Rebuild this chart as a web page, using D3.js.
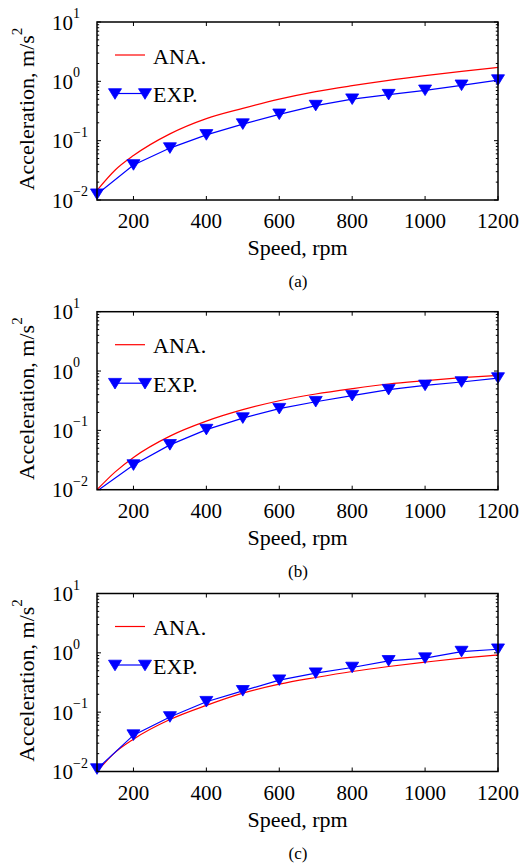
<!DOCTYPE html>
<html>
<head>
<meta charset="utf-8">
<script src="https://cdn.jsdelivr.net/npm/d3@7"></script>
<style>
  html, body { margin: 0; padding: 0; background: #fff; }
  svg { display: block; }
</style>
</head>
<body>
<svg id="chart" width="524" height="865"></svg>
<script>
// Measured speeds (rpm)
const expSpeeds = [100, 200, 300, 400, 500, 600, 700, 800, 900, 1000, 1100, 1200];
// Analytical curve sample speeds (rpm)
const anaSpeeds = [100, 150, 200, 300, 400, 500, 600, 700, 800, 900, 1000, 1100, 1200];

// Panel (a)
const anaA = [0.0145, 0.032, 0.056, 0.13, 0.235, 0.35, 0.5, 0.67, 0.845, 1.04, 1.245, 1.47, 1.72];
const expA = [0.0125, 0.039, 0.075, 0.125, 0.19, 0.278, 0.39, 0.5, 0.596, 0.706, 0.857, 1.05];
// Panel (b)
const anaB = [0.01, 0.02, 0.035, 0.08, 0.143, 0.223, 0.316, 0.41, 0.504, 0.604, 0.687, 0.772, 0.845];
const expB = [0.0095, 0.026, 0.057, 0.103, 0.161, 0.232, 0.304, 0.384, 0.485, 0.573, 0.653, 0.762];
// Panel (c)
const anaC = [0.01, 0.021, 0.035, 0.075, 0.13, 0.209, 0.296, 0.384, 0.485, 0.588, 0.696, 0.813, 0.925];
const expC = [0.011, 0.041, 0.083, 0.15, 0.229, 0.346, 0.454, 0.566, 0.733, 0.813, 1.05, 1.15];

const anaSeries = [anaA, anaB, anaC];
const expSeries = [expA, expB, expC];
const captions = ["(a)", "(b)", "(c)"];

// Axis ticks
const xTicks = [200, 400, 600, 800, 1000, 1200];
const yTicks = [0.01, 0.1, 1, 10];
const yTickExps = ["\u22122", "\u22121", "0", "1"];
const xLabel = "Speed, rpm";
const yLabel = "Acceleration, m/s";
const yLabelExp = "2";
const legendNames = ["ANA.", "EXP."];

const RED = "#ff0000", BLUE = "#0000ff";
const left = 97, right = 498, plotH = 178;
const panelTops = [22, 311.7, 593.5];

const svg = d3.select("#chart");

// pick the first installed Times-like face
function pickFont(cands) {
  const probe = svg.append("text").attr("font-size", 40).text("Acceleration 1200 ANA.");
  probe.attr("font-family", "monospace");
  const base = probe.node().getComputedTextLength();
  let found = "serif";
  for (const c of cands) {
    probe.attr("font-family", `"${c}", monospace`);
    if (Math.abs(probe.node().getComputedTextLength() - base) > 0.5) { found = `"${c}"`; break; }
  }
  probe.remove();
  return found;
}
const FONT = pickFont(["Liberation Serif", "Times New Roman", "Tinos", "Nimbus Roman", "Nimbus Roman No9 L", "Times", "DejaVu Serif", "Noto Serif"]);
svg.attr("font-family", FONT);

const x = d3.scaleLinear().domain([100, 1200]).range([left, right]);

// minor tick positions for the log axis
const minorTicks = [];
[0.01, 0.1, 1].forEach(dec => { for (let k = 2; k <= 9; k++) minorTicks.push(dec * k); });

// downward triangle marker
const tri = "M-6.5,-5.3L6.5,-5.3L0,5.3Z";

panelTops.forEach((top, i) => {
  const bottom = top + plotH;
  const y = d3.scaleLog().domain([0.01, 10]).range([bottom, top]);
  const g = svg.append("g");

  const clipId = "clip" + i;
  g.append("clipPath").attr("id", clipId)
    .append("rect").attr("x", left).attr("y", top)
    .attr("width", right - left).attr("height", plotH);

  // ticks (inward) on all four sides
  const tickG = g.append("g").attr("stroke", "#000").attr("stroke-width", 1);
  xTicks.forEach(t => {
    tickG.append("line").attr("x1", x(t)).attr("x2", x(t)).attr("y1", bottom).attr("y2", bottom - 4);
    tickG.append("line").attr("x1", x(t)).attr("x2", x(t)).attr("y1", top).attr("y2", top + 4);
  });
  yTicks.forEach(t => {
    tickG.append("line").attr("x1", left).attr("x2", left + 4).attr("y1", y(t)).attr("y2", y(t));
    tickG.append("line").attr("x1", right).attr("x2", right - 4).attr("y1", y(t)).attr("y2", y(t));
  });
  minorTicks.forEach(t => {
    tickG.append("line").attr("x1", left).attr("x2", left + 2.2).attr("y1", y(t)).attr("y2", y(t));
    tickG.append("line").attr("x1", right).attr("x2", right - 2.2).attr("y1", y(t)).attr("y2", y(t));
  });

  // x tick labels
  g.append("g").selectAll("text").data(xTicks).join("text")
    .attr("x", d => x(d)).attr("y", bottom + 28)
    .attr("text-anchor", "middle").attr("font-size", 21)
    .text(d => d);

  // y tick labels: 10 with superscript exponent
  yTicks.forEach((t, j) => {
    const txt = g.append("text").attr("x", 52).attr("y", y(t) + 7.5).attr("font-size", 21);
    txt.append("tspan").text("10");
    txt.append("tspan").attr("font-size", 14).attr("dy", -11.5).text(yTickExps[j]);
  });

  // axis titles
  g.append("text").attr("x", (left + right) / 2).attr("y", bottom + 55)
    .attr("text-anchor", "middle").attr("font-size", 22).text(xLabel);
  const yt = g.append("text")
    .attr("transform", `translate(34,${(top + bottom) / 2 - 2}) rotate(-90)`)
    .attr("text-anchor", "middle").attr("font-size", 22);
  yt.append("tspan").text(yLabel);
  yt.append("tspan").attr("font-size", 15).attr("dy", -12).text(yLabelExp);

  // caption
  g.append("text").attr("x", 298).attr("y", top + 265)
    .attr("text-anchor", "middle").attr("font-size", 17).text(captions[i]);

  // series
  const data = g.append("g").attr("clip-path", `url(#${clipId})`);
  const anaLine = d3.line().x((d, k) => x(anaSpeeds[k])).y(d => y(d)).curve(d3.curveMonotoneX);
  data.append("path").datum(anaSeries[i]).attr("d", anaLine)
    .attr("fill", "none").attr("stroke", RED).attr("stroke-width", 1.2);

  const expLine = d3.line().x((d, k) => x(expSpeeds[k])).y(d => y(d));
  data.append("path").datum(expSeries[i]).attr("d", expLine)
    .attr("fill", "none").attr("stroke", BLUE).attr("stroke-width", 1.2);

  const pts = expSeries[i].map((v, k) => ({ s: expSpeeds[k], v }))
    .filter(d => d.v >= 0.01);
  g.append("g").selectAll("path").data(pts).join("path")
    .attr("d", tri).attr("fill", BLUE).attr("stroke", BLUE).attr("stroke-width", 0.8)
    .attr("transform", d => `translate(${x(d.s)},${y(d.v)})`);

  // legend
  const lg = g.append("g");
  lg.append("line").attr("x1", 115).attr("x2", 145).attr("y1", top + 33).attr("y2", top + 33)
    .attr("stroke", RED).attr("stroke-width", 1.2);
  lg.append("text").attr("x", 153).attr("y", top + 41.5).attr("font-size", 22).text(legendNames[0]);
  lg.append("line").attr("x1", 115).attr("x2", 145).attr("y1", top + 71.5).attr("y2", top + 71.5)
    .attr("stroke", BLUE).attr("stroke-width", 1.2);
  [115, 145].forEach(px => lg.append("path").attr("d", tri).attr("fill", BLUE)
    .attr("stroke", BLUE).attr("stroke-width", 0.8)
    .attr("transform", `translate(${px},${top + 72})`));
  lg.append("text").attr("x", 153).attr("y", top + 80).attr("font-size", 22).text(legendNames[1]);

  // box
  g.append("rect").attr("x", left).attr("y", top).attr("width", right - left).attr("height", plotH)
    .attr("fill", "none").attr("stroke", "#000").attr("stroke-width", 1.5);
});
</script>
</body>
</html>
